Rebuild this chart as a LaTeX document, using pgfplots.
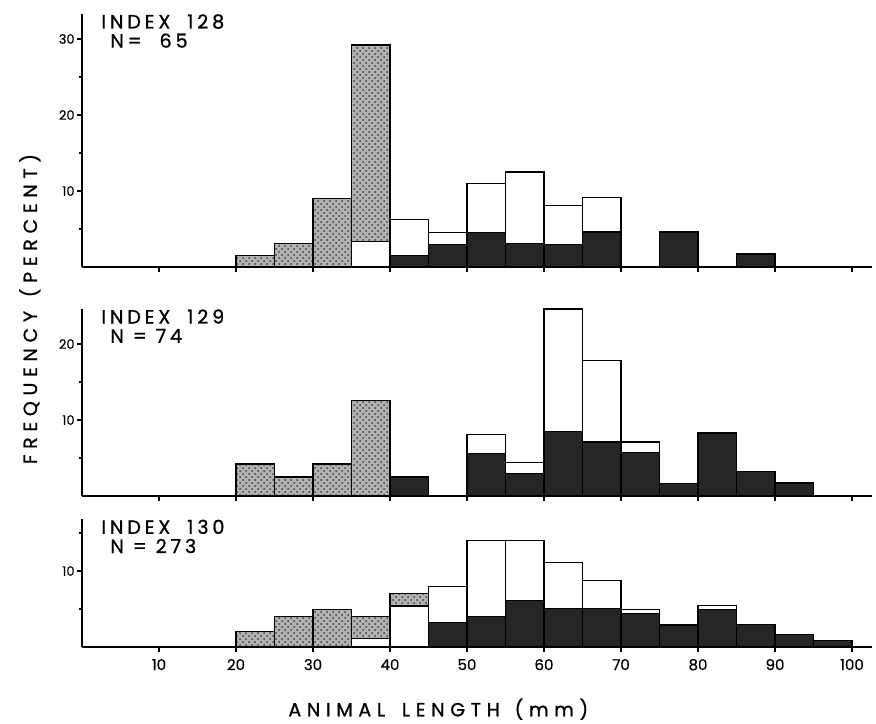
\documentclass[border=0pt]{standalone}
\usepackage{fontspec}
\setmainfont{Poppins}[FakeBold=0.5]
\newfontfamily\spaced{Poppins}[LetterSpace=30, FakeBold=1]
\newfontfamily\tagfont{Poppins}[LetterSpace=20, FakeBold=1]
\usepackage{pgfplots}
\usepackage{pgfplotstable}
\pgfplotsset{compat=1.18}
\usetikzlibrary{patterns}

% length classes (bin centres), percent per maturity stage
\pgfplotstableread{
x    blk  wht  hat
22.5 0    0    1.5
27.5 0    0    3.1
32.5 0    0    9.0
37.5 0    3.4  25.8
42.5 1.55 4.65 0
47.5 3.0  1.5  0
52.5 4.5  6.5  0
57.5 3.1  9.4  0
62.5 3.0  5.1  0
67.5 4.6  4.5  0
72.5 0    0    0
77.5 4.6  0    0
82.5 0    0    0
87.5 1.7  0    0
92.5 0    0    0
97.5 0    0    0
}\tabA

\pgfplotstableread{
x    blk  wht  hat
22.5 0    0    4.2
27.5 0    0    2.5
32.5 0    0    4.2
37.5 0    0    12.6
42.5 2.5  0    0
47.5 0    0    0
52.5 5.6  2.5  0
57.5 3.0  1.4  0
62.5 8.5  16.1 0
67.5 7.1  10.7 0
72.5 5.7  1.4  0
77.5 1.6  0    0
82.5 8.3  0    0
87.5 3.2  0    0
92.5 1.7  0    0
97.5 0    0    0
}\tabB

\pgfplotstableread{
x    blk  wht  hat
22.5 0    0    2.0
27.5 0    0    4.0
32.5 0    0    4.9
37.5 0    1.1  2.9
42.5 0    5.4  1.65
47.5 3.2  4.8  0
52.5 4.0  10.0 0
57.5 6.1  7.9  0
62.5 5.1  6.0  0
67.5 5.1  3.7  0
72.5 4.4  0.5  0
77.5 2.9  0    0
82.5 4.9  0.6  0
87.5 3.0  0    0
92.5 1.65 0    0
97.5 0.9  0    0
}\tabC

\pgfplotsset{
  histo/.style={
    x=3.85pt, y=3.8pt,
    xmin=0, xmax=102.6, ymin=0,
    axis lines=left,
    axis line style={-, line width=0.75pt},
    xtick={10,20,...,100},
    tick align=outside,
    major tick length=2.5pt,
    minor tick length=1.5pt,
    tick style={line width=0.6pt, black},
    ybar stacked, bar width=5, bar shift=0pt,
    /pgf/number format/assume math mode=true,
    yticklabel style={font=\fontsize{6.5}{7}\selectfont, inner sep=1pt},
    xticklabel style={font=\fontsize{7.5}{8}\selectfont},
    clip=false,
  },
  blk/.style={fill=black!85, draw=black, line width=0.6pt},
  wht/.style={fill=white, draw=black, line width=0.6pt},
  hat/.style={fill=gray!60, draw=black, line width=0.6pt,
    postaction={pattern=crosshatch dots, pattern color=black!75}},
}

\newcommand\tag[2]{%
  \node[anchor=north west, inner sep=0pt, align=left,
        font=\tagfont\fontsize{9.6}{9.6}\selectfont]
    at ([xshift=9.5pt]rel axis cs:0,1) {INDEX\hspace{4pt} #1\\\hspace{4.5pt}#2};}

\begin{document}
\begin{tikzpicture}
% INDEX 128
\begin{axis}[histo, at={(0,190pt)}, ymax=33.3,
  ytick={10,20,30}, minor ytick={5,15,25}, xticklabels={}]
  \addplot[blk] table[x=x, y=blk] {\tabA};
  \addplot[wht] table[x=x, y=wht] {\tabA};
  \addplot[hat] table[x=x, y=hat] {\tabA};
  \tag{128}{N=\ \ 65}
\end{axis}
% INDEX 129
\begin{axis}[histo, at={(0,75.5pt)}, ymax=24.6,
  ytick={10,20}, minor ytick={5,15}, xticklabels={},
  ylabel={FREQUENCY\hspace{1.5pt} (PERCENT)},
  ylabel style={at={(axis description cs:-0.066,1)}, anchor=center,
    font=\spaced\fontsize{9.5}{10}\selectfont}]
  \addplot[blk] table[x=x, y=blk] {\tabB};
  \addplot[wht] table[x=x, y=wht] {\tabB};
  \addplot[hat] table[x=x, y=hat] {\tabB};
  \tag{129}{N = 74}
\end{axis}
% INDEX 130
\begin{axis}[histo, at={(0,0)}, ymax=16.8,
  ytick={10}, minor ytick={5,15},
  xlabel={ANIMAL\hspace{3pt} LENGTH\hspace{2pt} (mm)},
  xlabel style={at={(axis description cs:0.451,-0.487)}, anchor=center,
    font=\spaced\fontsize{9.5}{10}\selectfont}]
  \addplot[blk] table[x=x, y=blk] {\tabC};
  \addplot[wht] table[x=x, y=wht] {\tabC};
  \addplot[hat] table[x=x, y=hat] {\tabC};
  \tag{130}{N = 273}
\end{axis}
\pgfresetboundingbox
\path[use as bounding box] (-41pt,-38pt) rectangle (397pt,323.5pt);
\end{tikzpicture}
\end{document}
